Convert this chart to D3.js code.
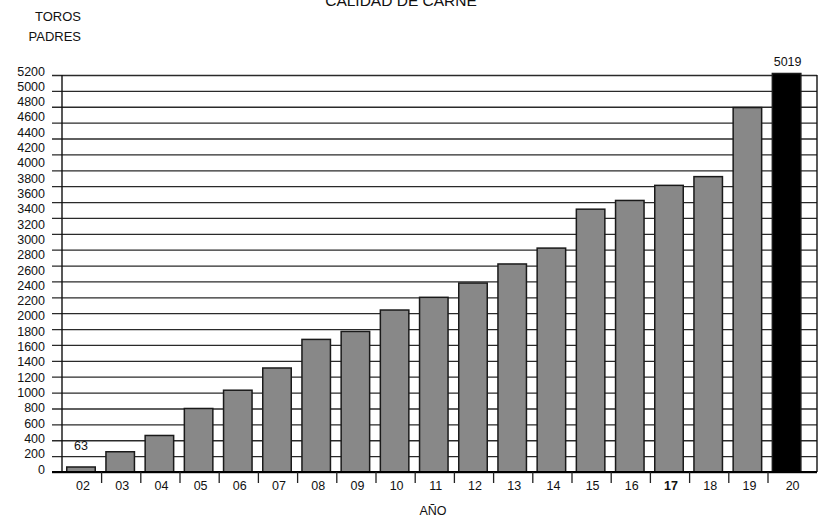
<!DOCTYPE html>
<html>
<head>
<meta charset="utf-8">
<script src="https://cdn.jsdelivr.net/npm/d3@7/dist/d3.min.js"></script>
<style>
  body { margin: 0; background: #fff; }
  svg { display: block; font-family: "Liberation Sans", Arial, sans-serif; }
</style>
</head>
<body>
<svg id="chart" width="823" height="518"></svg>
<script>
// ---- data ----
const years = ["02","03","04","05","06","07","08","09","10","11","12","13","14","15","16","17","18","19","20"];
const toros = [63, 255, 460, 800, 1030, 1310, 1670, 1770, 2040, 2200, 2380, 2620, 2820, 3310, 3420, 3610, 3720, 4590, 5019];
const gridValues = d3.range(0, 5001, 200);       // drawn grid lines 0..5000
const axisLabels = d3.range(0, 5201, 200);       // printed labels 0..5200
const labelledBars = ["02", "20"];
const boldYear = "17";
const title = "CALIDAD DE CARNE";
const yTitle = ["TOROS", "PADRES"];
const xTitle = "AÑO";

// ---- layout ----
const svg = d3.select("#chart");
const W = 823, H = 518;
const axisLeftX = 62, gridLeft = 52, gridRight = 817;
const y0 = 472, yTop = 75;

const x = d3.scaleBand().domain(years).range([61.4, 806.2]).paddingInner(0.273).paddingOuter(0.1365);
const y = d3.scaleLinear().domain([0, 5000]).range([y0, yTop]);
const yLab = d3.scaleLinear().domain([0, 5200]).range([469, 71]);

// title (cut at the top as in the reference)
svg.append("text").attr("x", 401).attr("y", 5.5).attr("text-anchor", "middle")
  .attr("font-size", 15.5).attr("fill", "#111").text(title);

// y title
yTitle.forEach((t, i) => {
  svg.append("text").attr("x", 81).attr("y", 20.5 + i * 20).attr("text-anchor", "end")
    .attr("font-size", 13).attr("fill", "#111").text(t);
});

// grid lines (via axis)
const gridG = svg.append("g").attr("transform", `translate(${gridLeft},0)`)
  .call(d3.axisRight(y).tickValues(gridValues).tickSize(gridRight - gridLeft).tickFormat(""));
gridG.select(".domain").remove();
gridG.selectAll(".tick line").attr("stroke", "#2a2a2a").attr("stroke-width", 1.3);

// y labels
const labG = svg.append("g").attr("transform", "translate(45,0)")
  .call(d3.axisLeft(yLab).tickValues(axisLabels).tickSize(0).tickPadding(0).tickFormat(d3.format("d")));
labG.select(".domain").remove();
labG.selectAll("text").attr("font-size", 12.5).attr("fill", "#111")
  .attr("font-family", '"Liberation Sans", Arial, sans-serif');

// y axis line and right border
svg.append("line").attr("x1", axisLeftX).attr("x2", axisLeftX).attr("y1", y(5000)).attr("y2", y(0))
  .attr("stroke", "#111").attr("stroke-width", 1.4);
svg.append("line").attr("x1", gridRight).attr("x2", gridRight).attr("y1", y(5000)).attr("y2", y(0))
  .attr("stroke", "#111").attr("stroke-width", 1.4);

// bars
svg.append("g").selectAll("rect").data(years).join("rect")
  .attr("x", d => x(d))
  .attr("width", x.bandwidth())
  .attr("y", (d, i) => y(toros[i]))
  .attr("height", (d, i) => y(0) - y(toros[i]))
  .attr("fill", d => d === "20" ? "#000" : "#888888")
  .attr("stroke", "#1a1a1a").attr("stroke-width", 1.5);

// value labels
svg.append("g").selectAll("text").data(years.filter(d => labelledBars.includes(d))).join("text")
  .attr("x", d => x(d) + x.bandwidth() / 2 + (d === "20" ? 1 : 0))
  .attr("y", d => d === "02" ? 450 : 66)
  .attr("text-anchor", "middle").attr("font-size", 12.5).attr("fill", "#111")
  .text(d => toros[years.indexOf(d)]);

// x axis baseline
svg.append("line").attr("x1", gridLeft).attr("x2", gridRight).attr("y1", y0).attr("y2", y0)
  .attr("stroke", "#000").attr("stroke-width", 2);

// x separators between categories
const seps = years.slice(1).map(d => x(d) - x.step() * x.paddingInner() / 2);
svg.append("g").selectAll("line").data(seps).join("line")
  .attr("x1", d => d + 1).attr("x2", d => d + 1).attr("y1", y0).attr("y2", y0 + 11)
  .attr("stroke", "#222").attr("stroke-width", 1.3);

// x labels
const xg = svg.append("g").attr("transform", `translate(0,${y0})`)
  .call(d3.axisBottom(x).tickSize(0).tickPadding(9));
xg.select(".domain").remove();
xg.selectAll("text").attr("font-size", 12.5).attr("fill", "#111")
  .attr("font-family", '"Liberation Sans", Arial, sans-serif')
  .attr("font-weight", d => d === boldYear ? "bold" : "normal")
  .attr("dx", d => d === "20" ? 6 : 2);

// x title
svg.append("text").attr("x", 433).attr("y", 514.5).attr("text-anchor", "middle")
  .attr("font-size", 12.5).attr("fill", "#111").text(xTitle);
</script>
</body>
</html>
